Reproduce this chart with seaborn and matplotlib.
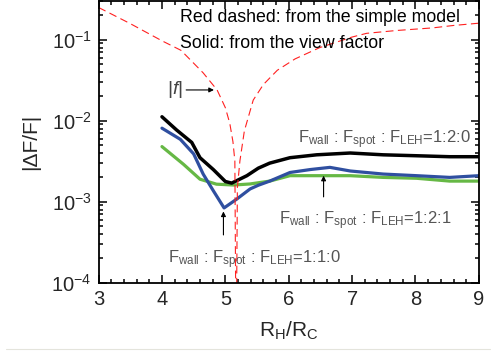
import numpy as np
import pandas as pd
import matplotlib
matplotlib.use("Agg")
import matplotlib.pyplot as plt
import seaborn as sns
from matplotlib.ticker import LogLocator, MultipleLocator, NullFormatter
from matplotlib.lines import Line2D

# ---- data ----
x_model = [3.0, 3.5, 4.0, 4.3, 4.65, 4.87, 5.0, 5.07, 5.12, 5.15, 5.17,
           5.19, 5.23, 5.3, 5.44, 5.6, 5.82, 6.1, 6.49, 7.0, 7.23, 7.7, 8.27, 8.6, 9.0]
f_model = [0.25, 0.158, 0.097, 0.074, 0.039, 0.024, 0.0145, 0.0093, 0.0055, 0.0032, 0.00001,
           0.0015, 0.0032, 0.0075, 0.018, 0.028, 0.042, 0.058, 0.080, 0.108, 0.12, 0.13, 0.14, 0.15, 0.16]

x_120 = [4.0, 4.23, 4.47, 4.6, 4.81, 5.0, 5.1, 5.34, 5.52, 5.7, 6.02, 6.44, 6.97, 7.49, 8.02, 8.54, 9.0]
f_120 = [0.0112, 0.0077, 0.0054, 0.0035, 0.0025, 0.00178, 0.0017, 0.0021, 0.0026, 0.0030,
         0.0035, 0.0038, 0.0040, 0.0038, 0.0037, 0.0036, 0.0036]

x_110 = [4.0, 4.29, 4.5, 4.65, 4.81, 4.98, 5.18, 5.39, 5.52, 5.7, 6.02, 6.34, 6.65, 6.97, 7.49, 8.02, 8.54, 9.0]
f_110 = [0.0081, 0.0059, 0.0039, 0.0022, 0.00137, 0.00084, 0.00108, 0.00144, 0.00160, 0.0018,
         0.0023, 0.0025, 0.00266, 0.0024, 0.0022, 0.0021, 0.0020, 0.0021]

x_121 = [4.0, 4.34, 4.6, 4.86, 5.13, 5.39, 5.7, 6.02, 6.44, 6.97, 7.49, 8.02, 8.54, 9.0]
f_121 = [0.0048, 0.0029, 0.0019, 0.00165, 0.00161, 0.00166, 0.0018, 0.0021, 0.0021, 0.0021,
         0.0020, 0.00195, 0.0018, 0.0018]

xticks = [3, 4, 5, 6, 7, 8, 9]

# ---- style ----
sns.set_style("ticks")
plt.rcParams['font.family'] = ['Liberation Sans', 'DejaVu Sans']
plt.rcParams['mathtext.fontset'] = 'custom'
plt.rcParams['mathtext.rm'] = 'Liberation Sans'
plt.rcParams['mathtext.it'] = 'Liberation Sans:italic'
plt.rcParams['mathtext.bf'] = 'Liberation Sans:bold'

fig = plt.figure(figsize=(5.03, 3.58), dpi=100)
ax = fig.add_axes([0.196, 0.21, 0.756, 0.787])

df_model = pd.DataFrame({"x": x_model, "y": f_model})
df_120 = pd.DataFrame({"x": x_120, "y": f_120})
df_110 = pd.DataFrame({"x": x_110, "y": f_110})
df_121 = pd.DataFrame({"x": x_121, "y": f_121})

sns.lineplot(data=df_121, x="x", y="y", ax=ax, color="#66b845", lw=2.3, sort=False)
sns.lineplot(data=df_110, x="x", y="y", ax=ax, color="#2f4fa0", lw=2.3, sort=False)
sns.lineplot(data=df_120, x="x", y="y", ax=ax, color="black", lw=2.5, sort=False)
sns.lineplot(data=df_model, x="x", y="y", ax=ax, color="#ff2020", lw=0.8, sort=False,
             linestyle=(0, (7, 4)))

ax.set_yscale("log")
ax.set_xlim(3, 9)
ax.set_ylim(1e-4, 0.3)
ax.set_xticks(xticks)
ax.xaxis.set_minor_locator(MultipleLocator(0.2))
ax.yaxis.set_major_locator(LogLocator(base=10, numticks=10))
ax.yaxis.set_minor_locator(LogLocator(base=10, subs=np.arange(2, 10), numticks=20))
ax.yaxis.set_minor_formatter(NullFormatter())

ax.tick_params(which="both", direction="in", top=True, right=True, width=1.1, color="black")
ax.tick_params(which="major", length=6, labelsize=14.5, pad=5)
ax.tick_params(which="minor", length=3)
for s in ax.spines.values():
    s.set_linewidth(1.3)
    s.set_color("black")

ax.set_xlabel(r"R$_{\rm H}$/R$_{\rm C}$", fontsize=15, labelpad=8)
ax.set_ylabel("|ΔF/F|", fontsize=15, labelpad=8)

# ---- annotations ----
ax.text(0.215, 0.94, "Red dashed: from the simple model", transform=ax.transAxes,
        fontsize=12.8, color="black", va="center")
ax.text(0.215, 0.85, "Solid: from the view factor", transform=ax.transAxes,
        fontsize=12.8, color="black", va="center")

ax.annotate(r"$|f|$", xy=(4.82, 0.024), xytext=(4.08, 0.024), fontsize=14, color="#444444",
            va="center", ha="left",
            arrowprops=dict(arrowstyle="-|>", color="black", lw=0.8, mutation_scale=7,
                            shrinkA=0, shrinkB=0))

gray = "#555555"
ax.text(6.15, 0.0058, r"F$_{\rm wall}$ : F$_{\rm spot}$ : F$_{\rm LEH}$=1:2:0",
        fontsize=12, color=gray, va="center", ha="left")
ax.text(5.85, 0.00058, r"F$_{\rm wall}$ : F$_{\rm spot}$ : F$_{\rm LEH}$=1:2:1",
        fontsize=12, color=gray, va="center", ha="left")
ax.text(4.1, 0.000195, r"F$_{\rm wall}$ : F$_{\rm spot}$ : F$_{\rm LEH}$=1:1:0",
        fontsize=12, color=gray, va="center", ha="left")

ax.annotate("", xy=(6.55, 0.0021), xytext=(6.55, 0.00115),
            arrowprops=dict(arrowstyle="-|>", color="black", lw=0.8, mutation_scale=7,
                            shrinkA=0, shrinkB=0))
ax.annotate("", xy=(4.97, 0.00076), xytext=(4.97, 0.00039),
            arrowprops=dict(arrowstyle="-|>", color="black", lw=0.8, mutation_scale=7,
                            shrinkA=0, shrinkB=0))

fig.add_artist(Line2D([0.012, 0.975], [0.025, 0.025], transform=fig.transFigure,
                      color="#e4e4dc", lw=0.8))

fig.savefig("out.png", dpi=100)
